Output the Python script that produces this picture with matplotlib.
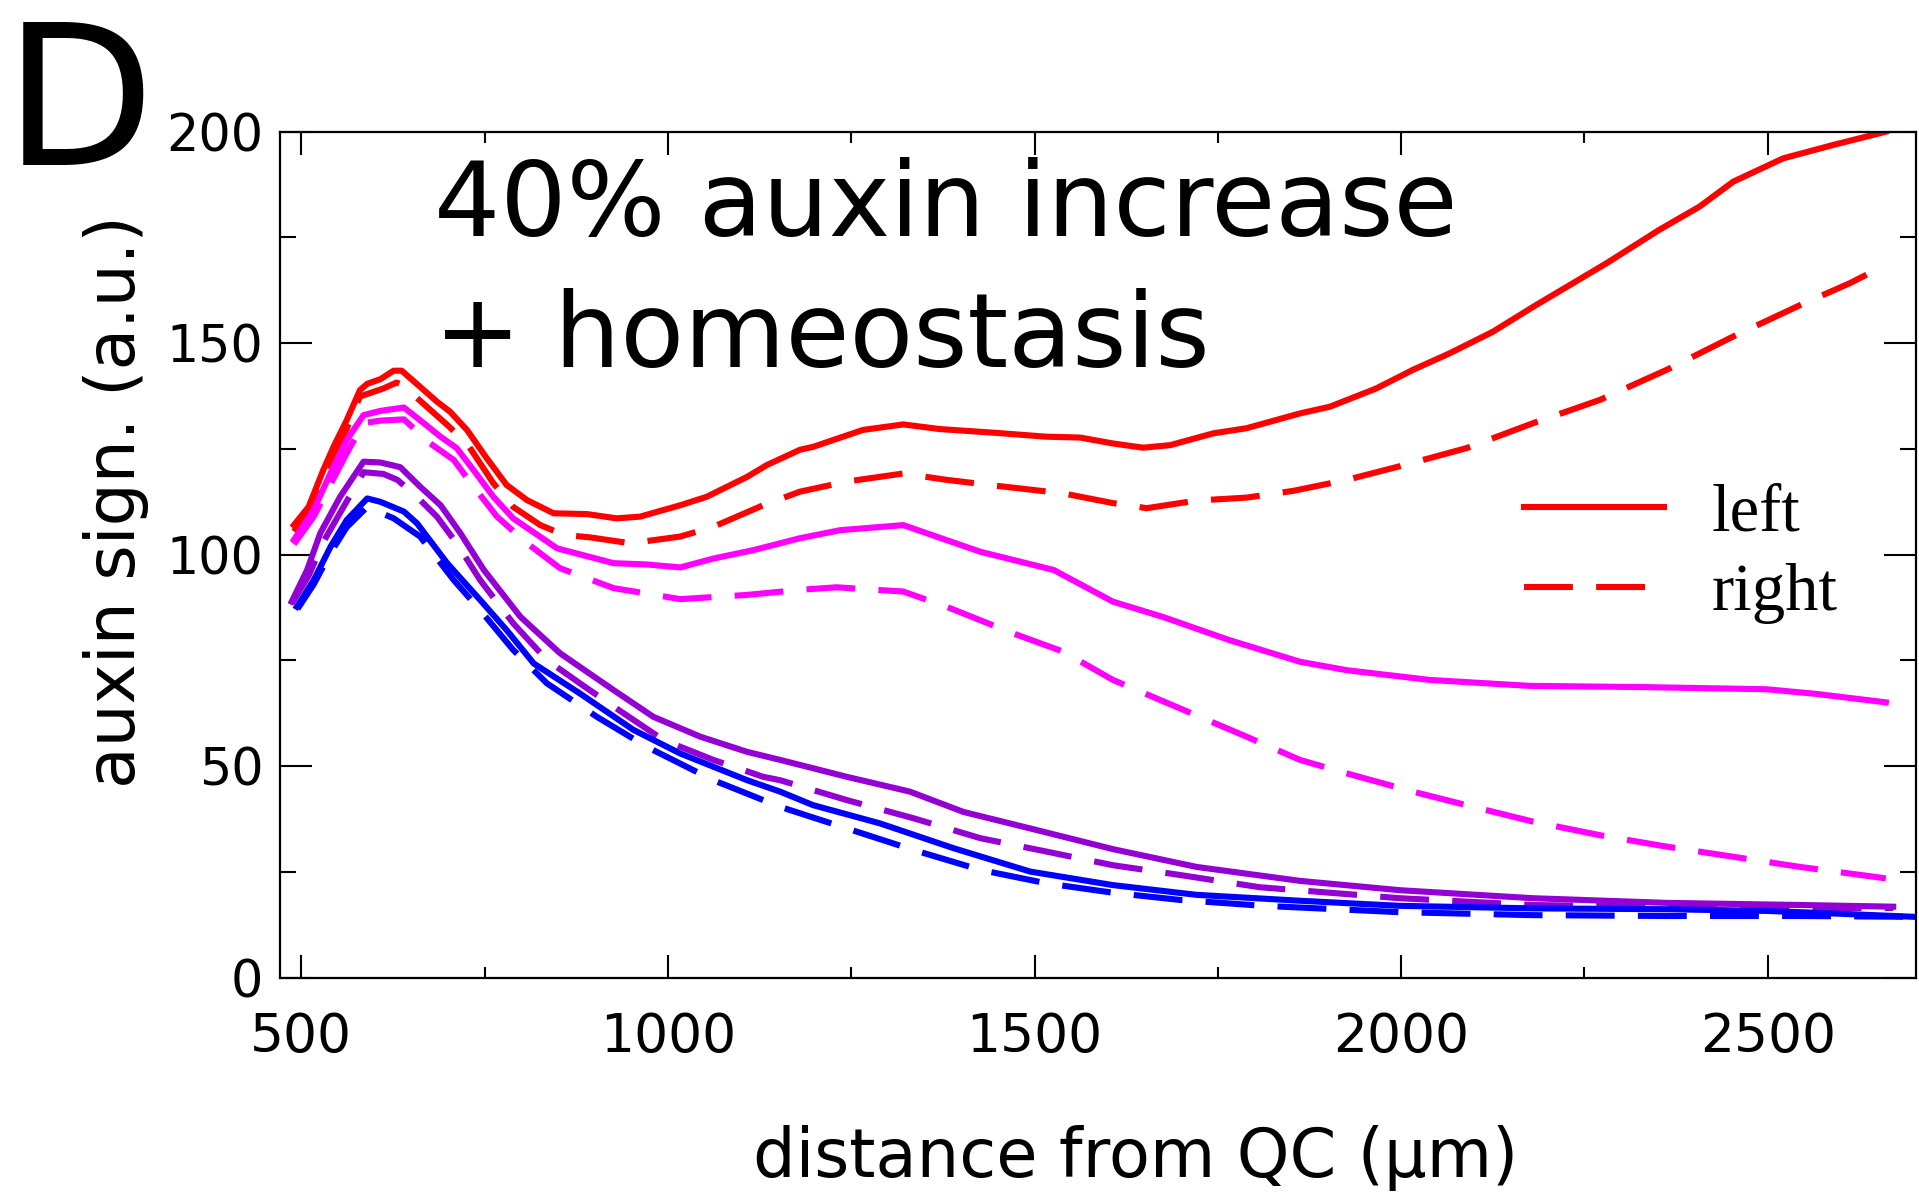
import matplotlib
matplotlib.use('Agg')
import matplotlib.pyplot as plt
from matplotlib.ticker import MultipleLocator

# auxin signal along the root, left and right flanks, four time points
red_left_x = [490, 510, 530, 544, 562, 580, 590, 608, 626, 637, 662, 685, 703, 726, 753, 780, 808, 844, 890, 930,
              962, 1017, 1053, 1108, 1135, 1180, 1198, 1266, 1321, 1371, 1448, 1516, 1562, 1607, 1648, 1685, 1744,
              1789, 1862, 1903, 1966, 2016, 2066, 2125, 2180, 2280, 2352, 2407, 2453, 2521, 2590, 2661]
red_left_y = [107.0, 111.3, 120.0, 125.5, 131.8, 138.9, 140.4, 141.5, 143.5, 143.5, 139.7, 136.2, 133.8, 129.5, 122.8,
              116.5, 112.9, 109.8, 109.6, 108.6, 109.0, 111.7, 113.7, 118.4, 121.2, 124.8, 125.5, 129.5, 130.8, 129.7,
              128.8, 127.9, 127.7, 126.3, 125.3, 125.9, 128.7, 129.9, 133.4, 135.0, 139.3, 143.7, 147.6, 152.7, 158.6,
              168.9, 176.8, 182.3, 188.2, 193.7, 196.9, 200.0]

red_right_x = [490, 510, 530, 560, 580, 612, 630, 639, 653, 699, 726, 762, 789, 826, 858, 894, 949, 1017, 1062, 1130,
               1180, 1244, 1321, 1380, 1448, 1539, 1607, 1653, 1721, 1789, 1853, 1926, 2000, 2089, 2180, 2271, 2362,
               2453, 2544, 2612, 2661]
red_right_y = [105.5, 110.0, 118.0, 129.0, 137.4, 139.3, 140.7, 140.1, 137.8, 130.7, 126.3, 116.9, 111.3, 107.0, 104.7,
               104.1, 102.7, 104.3, 106.6, 111.7, 114.9, 117.3, 119.2, 117.7, 116.3, 114.5, 112.2, 111.0, 112.8, 113.5,
               115.1, 117.7, 121.0, 125.2, 131.1, 136.6, 143.7, 151.6, 159.0, 164.2, 168.5]

mag_left_x = [490, 517, 544, 562, 585, 608, 640, 662, 690, 712, 735, 762, 789, 849, 926, 971, 1017, 1062, 1117, 1180,
              1235, 1321, 1426, 1526, 1607, 1675, 1766, 1862, 1926, 2039, 2175, 2334, 2498, 2566, 2661]
mag_left_y = [103.5, 110.6, 120.8, 127.1, 133.0, 134.0, 134.8, 131.8, 127.9, 125.2, 120.0, 113.7, 108.6, 101.5, 98.0,
              97.7, 97.0, 99.1, 101.1, 103.9, 105.8, 107.0, 100.7, 96.4, 88.9, 85.3, 79.8, 74.7, 72.7, 70.4, 69.0,
              68.7, 68.2, 67.1, 65.1]

mag_right_x = [490, 517, 544, 562, 585, 608, 640, 676, 708, 735, 767, 808, 853, 926, 1017, 1108, 1180, 1230, 1321,
               1380, 1471, 1539, 1607, 1698, 1789, 1862, 1926, 2016, 2089, 2180, 2271, 2362, 2453, 2544, 2661]
mag_right_y = [102.5, 109.0, 118.0, 124.0, 131.1, 131.7, 132.0, 126.3, 122.4, 116.1, 109.0, 102.7, 96.8, 92.1, 89.5,
               90.5, 91.7, 92.3, 91.3, 87.7, 81.4, 77.1, 70.4, 63.7, 57.0, 51.5, 48.3, 44.0, 40.8, 36.9, 33.7, 31.0,
               28.6, 26.2, 23.5]

pur_left_x = [487, 508, 526, 553, 585, 608, 635, 662, 690, 717, 749, 799, 853, 926, 980, 1044, 1108, 1153, 1244, 1330,
              1403, 1494, 1607, 1721, 1862, 1998, 2180, 2362, 2544, 2671]
pur_left_y = [88.9, 96.4, 105.1, 113.7, 122.0, 121.8, 120.7, 116.1, 111.7, 105.1, 96.4, 85.3, 76.7, 68.0, 61.7, 57.0,
              53.4, 51.5, 47.5, 44.0, 39.2, 35.3, 30.4, 26.2, 22.9, 20.7, 18.8, 17.7, 17.2, 16.8]

pur_right_x = [487, 510, 530, 560, 585, 612, 631, 653, 685, 712, 744, 789, 835, 880, 926, 994, 1062, 1130, 1153, 1244,
               1335, 1426, 1517, 1607, 1698, 1807, 1998, 2089, 2180, 2316, 2453, 2671]
pur_right_y = [88.5, 95.0, 103.0, 112.0, 119.5, 119.1, 117.7, 114.5, 109.0, 102.7, 94.0, 83.8, 75.1, 69.6, 64.1, 56.2,
               51.5, 47.5, 46.7, 42.0, 37.7, 33.0, 29.8, 26.6, 24.3, 21.4, 18.8, 18.0, 17.2, 16.8, 16.4, 16.5]

blue_left_x = [494, 517, 540, 562, 590, 608, 640, 658, 699, 744, 780, 817, 880, 953, 1017, 1108, 1153, 1198, 1289,
               1390, 1494, 1607, 1721, 1862, 1998, 2180, 2362, 2498, 2589, 2700]
blue_left_y = [87.7, 94.0, 101.9, 108.2, 113.3, 112.5, 110.2, 107.4, 98.0, 89.3, 82.2, 74.3, 67.2, 58.6, 53.0, 46.7,
               44.0, 40.8, 36.5, 30.6, 25.1, 21.9, 19.6, 18.2, 17.0, 16.4, 16.2, 15.8, 15.2, 14.4]

blue_right_x = [495, 517, 540, 562, 590, 626, 662, 708, 744, 789, 835, 903, 971, 1062, 1153, 1244, 1335, 1426, 1517,
                1607, 1698, 1812, 1998, 2180, 2362, 2544, 2700]
blue_right_y = [87.2, 93.0, 100.5, 106.5, 111.3, 108.6, 104.3, 94.0, 86.9, 77.5, 69.6, 61.7, 54.6, 46.7, 40.4, 35.3,
                30.2, 25.5, 22.3, 20.1, 18.4, 17.0, 15.5, 14.8, 14.6, 14.6, 14.4]

lw = 4.4
dash = (8.0, 3.8)

fig = plt.figure(figsize=(19.19, 11.95), dpi=100)
ax = fig.add_axes([0.1459, 0.1818, 0.8525, 0.708])

ax.plot(red_left_x, red_left_y, color='#ff0000', lw=lw, label='left')
ax.plot(red_right_x, red_right_y, color='#ff0000', lw=lw, dashes=dash, label='right')
ax.plot(mag_left_x, mag_left_y, color='#ff00ff', lw=lw)
ax.plot(mag_right_x, mag_right_y, color='#ff00ff', lw=lw, dashes=dash)
ax.plot(pur_left_x, pur_left_y, color='#9400d3', lw=lw)
ax.plot(pur_right_x, pur_right_y, color='#9400d3', lw=lw, dashes=dash)
ax.plot(blue_left_x, blue_left_y, color='#0000ff', lw=lw)
ax.plot(blue_right_x, blue_right_y, color='#0000ff', lw=lw, dashes=dash)

ax.set_xlim(471, 2702)
ax.set_ylim(0, 200)
ax.xaxis.set_major_locator(MultipleLocator(500))
ax.xaxis.set_minor_locator(MultipleLocator(250))
ax.yaxis.set_major_locator(MultipleLocator(50))
ax.yaxis.set_minor_locator(MultipleLocator(25))

for s in ax.spines.values():
    s.set_linewidth(1.6)
ax.tick_params(which='both', direction='in', top=True, right=True, width=1.5)
ax.tick_params(axis='x', which='major', length=16.5, pad=24, labelsize=38.5)
ax.tick_params(axis='x', which='minor', length=8)
ax.tick_params(axis='y', which='major', length=23, pad=12, labelsize=36.5)
ax.tick_params(axis='y', which='minor', length=11.5)

fig.text(0.0604, 0.580, 'auxin sign. (a.u.)', rotation=90, ha='center', va='center', fontsize=49)
fig.text(0.592, 0.015, 'distance from QC (µm)', ha='center', va='baseline', fontsize=48.3)
fig.text(0.002, 1 - 165 / 1195, 'D', ha='left', va='baseline', fontsize=141)

fig.text(434 / 1919, 1 - 236 / 1195, '40% auxin increase', ha='left', va='baseline', fontsize=75)
fig.text(434 / 1919, 1 - 367 / 1195, '+ homeostasis', ha='left', va='baseline', fontsize=75)

ax.legend(loc='center left', bbox_to_anchor=(1524 / 1919, 1 - 554 / 1195), bbox_transform=fig.transFigure,
          frameon=False, prop={'family': 'Liberation Serif', 'size': 48}, handlelength=2.1,
          handletextpad=0.72, labelspacing=0.28, borderpad=0, borderaxespad=0)

fig.savefig('out.png', dpi=100)
